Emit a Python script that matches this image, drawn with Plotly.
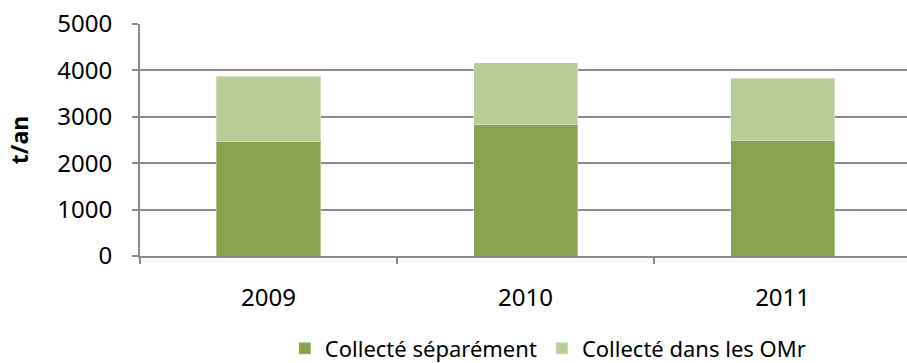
import plotly.graph_objects as go

# Tonnage par an, deux modes de collecte
annees = ["2009", "2010", "2011"]
collecte_separement = [2460, 2830, 2500]
collecte_omr = [1410, 1335, 1330]

noms_series = ["Collecté séparément", "Collecté dans les OMr"]
couleurs = ["#87A34D", "#B9CE97"]

FONT = "Noto Sans"
GRIS = "#8a8a8a"

fig = go.Figure()
for nom, valeurs, couleur in zip(noms_series, [collecte_separement, collecte_omr], couleurs):
    fig.add_trace(go.Bar(
        x=annees, y=valeurs, name=nom,
        marker=dict(color=couleur, line=dict(color="rgba(255,255,255,0.35)", width=1)),
    ))

fig.update_layout(
    barmode="stack",
    bargap=0.595,
    width=907, height=363,
    margin=dict(l=140, r=0, t=24, b=107, autoexpand=False),
    paper_bgcolor="white", plot_bgcolor="white",
    font=dict(family=FONT, size=22, color="#000000"),
    showlegend=True,
    legend=dict(
        orientation="h", traceorder="normal",
        xref="container", yref="container",
        x=0.604, xanchor="center", y=0.04, yanchor="middle",
        font=dict(family=FONT, size=22, color="#000000"),
        itemwidth=30, tracegroupgap=0,
    ),
)

fig.update_xaxes(
    type="category",
    range=[-0.5, 2.484],
    showline=True, linecolor=GRIS, linewidth=2,
    ticks="outside", tickson="boundaries", ticklen=6, tickcolor=GRIS, tickwidth=1.5,
    ticklabelstandoff=19,
    showgrid=False,
    tickfont=dict(family=FONT, size=24, color="#000000"),
)

fig.update_yaxes(
    range=[0, 5000], dtick=1000,
    showline=True, linecolor=GRIS, linewidth=2,
    ticks="outside", ticklen=6, tickcolor=GRIS, tickwidth=1.5,
    showgrid=True, gridcolor=GRIS, gridwidth=2,
    zeroline=False,
    ticklabelstandoff=15,
    tickfont=dict(family=FONT, size=24, color="#000000"),
    title=dict(text="<b>t/an</b>", font=dict(family=FONT, size=23, color="#000000"), standoff=22),
)

fig.write_html("out.html")
